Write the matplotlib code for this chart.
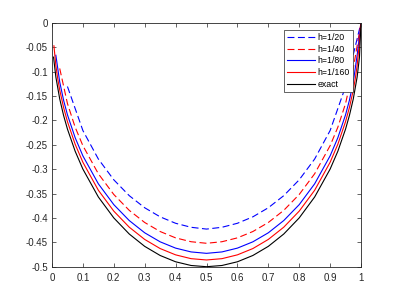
import matplotlib
matplotlib.use("Agg")
import matplotlib.pyplot as plt
from matplotlib.ticker import FuncFormatter

# numerical solutions h=1/20 ... 1/160 and the exact one
x_h20 = [0.05, 0.1, 0.15, 0.2, 0.25, 0.3, 0.35, 0.4, 0.45, 0.5,
         0.55, 0.6, 0.65, 0.7, 0.75, 0.8, 0.85, 0.9, 0.95, 1.0]
u_h20 = [-0.1307, -0.2210, -0.2793, -0.3219, -0.3544, -0.3792, -0.3978, -0.4110, -0.4192, -0.4229,
         -0.4192, -0.4110, -0.3978, -0.3792, -0.3544, -0.3219, -0.2793, -0.2210, -0.1307, 0.0]

x_h40 = [0.025, 0.05, 0.075, 0.1, 0.15, 0.2, 0.25, 0.3, 0.35, 0.4, 0.45, 0.5,
         0.55, 0.6, 0.65, 0.7, 0.75, 0.8, 0.85, 0.9, 0.925, 0.95, 0.975, 1.0]
u_h40 = [-0.0937, -0.1656, -0.2142, -0.2520, -0.3095, -0.3520, -0.3845, -0.4094, -0.4279, -0.4409, -0.4488, -0.4520,
         -0.4488, -0.4409, -0.4279, -0.4094, -0.3845, -0.3520, -0.3095, -0.2520, -0.2142, -0.1656, -0.0937, 0.0]

x_h80 = [0.0125, 0.025, 0.0375, 0.05, 0.075, 0.1, 0.15, 0.2, 0.25, 0.3, 0.35, 0.4, 0.45, 0.5,
         0.55, 0.6, 0.65, 0.7, 0.75, 0.8, 0.85, 0.9, 0.925, 0.95, 0.9625, 0.975, 0.9875, 1.0]
u_h80 = [-0.0667, -0.1213, -0.1588, -0.1886, -0.2357, -0.2729, -0.3301, -0.3728, -0.4054, -0.4305, -0.4490, -0.4619, -0.4697, -0.4726,
         -0.4697, -0.4619, -0.4490, -0.4305, -0.4054, -0.3728, -0.3301, -0.2729, -0.2357, -0.1886, -0.1588, -0.1213, -0.0667, 0.0]

x_h160 = [0.00625, 0.0125, 0.01875, 0.025, 0.0375, 0.05, 0.075, 0.1, 0.15, 0.2, 0.25, 0.3, 0.35, 0.4, 0.45, 0.5,
          0.55, 0.6, 0.65, 0.7, 0.75, 0.8, 0.85, 0.9, 0.925, 0.95, 0.9625, 0.975, 0.98125, 0.9875, 0.99375, 1.0]
u_h160 = [-0.0473, -0.0876, -0.1154, -0.1378, -0.1737, -0.2026, -0.2491, -0.2860, -0.3433, -0.3861, -0.4190, -0.4441, -0.4628, -0.4757, -0.4835, -0.4862,
          -0.4835, -0.4757, -0.4628, -0.4441, -0.4190, -0.3861, -0.3433, -0.2860, -0.2491, -0.2026, -0.1737, -0.1378, -0.1154, -0.0876, -0.0473, 0.0]

x_exact = [0.005, 0.0125, 0.025, 0.0375, 0.05, 0.075, 0.1, 0.15, 0.2, 0.25, 0.3, 0.35, 0.4, 0.45, 0.5,
           0.55, 0.6, 0.65, 0.7, 0.75, 0.8, 0.85, 0.9, 0.925, 0.95, 0.9625, 0.975, 0.9875, 0.995, 1.0]
u_exact = [-0.0705, -0.1111, -0.1561, -0.1900, -0.2179, -0.2634, -0.3000, -0.3571, -0.4000, -0.4330, -0.4583, -0.4770, -0.4899, -0.4975, -0.5000,
           -0.4975, -0.4899, -0.4770, -0.4583, -0.4330, -0.4000, -0.3571, -0.3000, -0.2634, -0.2179, -0.1900, -0.1561, -0.1111, -0.0705, 0.0]

labels = ["h=1/20", "h=1/40", "h=1/80", "h=1/160", "exact"]

plt.rcParams["font.family"] = ["Liberation Sans", "DejaVu Sans"]
plt.rcParams["lines.scale_dashes"] = False
plt.rcParams["axes.unicode_minus"] = False

fig = plt.figure(figsize=(3.99, 2.99), dpi=100)
ax = fig.add_axes([0.1303, 0.108, 0.7745, 0.816])

lw = 0.8
dash = (5, 2.5)
ax.plot(x_h20, u_h20, color="blue", lw=lw, dashes=dash, label=labels[0])
ax.plot(x_h40, u_h40, color="red", lw=lw, dashes=dash, label=labels[1])
ax.plot(x_h80, u_h80, color="blue", lw=lw, label=labels[2])
ax.plot(x_h160, u_h160, color="red", lw=lw, label=labels[3])
ax.plot(x_exact, u_exact, color="black", lw=lw, label=labels[4])

ax.set_xlim(0, 1)
ax.set_ylim(-0.5, 0)
ax.set_xticks([i / 10 for i in range(11)])
ax.set_yticks([-0.5 + i * 0.05 for i in range(11)])
fmt = FuncFormatter(lambda v, p: "%g" % round(v, 2))
ax.xaxis.set_major_formatter(fmt)
ax.yaxis.set_major_formatter(fmt)

edge = "#262626"
for s in ax.spines.values():
    s.set_color(edge)
    s.set_linewidth(0.6)
ax.tick_params(direction="in", length=3, width=0.5, colors=edge, labelsize=7,
               top=True, right=True)
ax.tick_params(axis="x", pad=4.5)
ax.tick_params(axis="y", pad=3)

leg = ax.legend(loc="upper right", bbox_to_anchor=(0.974, 0.97), fontsize=6.3,
                frameon=True, fancybox=False, framealpha=1, edgecolor=edge,
                handlelength=3.2, handletextpad=0.25, labelspacing=0.3,
                borderpad=0.35, borderaxespad=0.0)
leg.get_frame().set_linewidth(0.5)

fig.savefig("out.png", dpi=100)
